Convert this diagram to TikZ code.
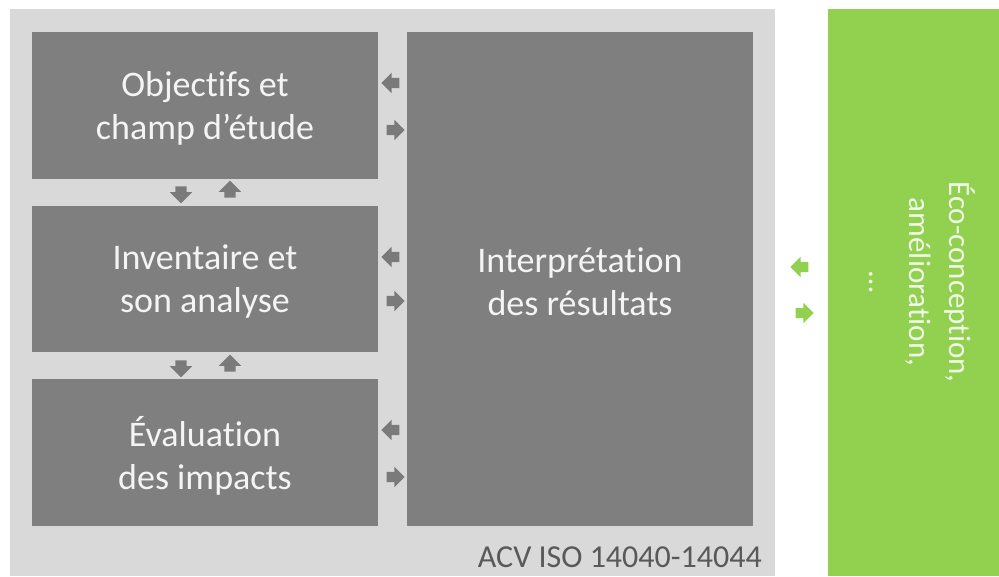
\documentclass[tikz,border=0pt]{standalone}
\usepackage{fontspec}
\setmainfont{Carlito}[Ligatures=NoCommon]
\usetikzlibrary{shapes.arrows}
\definecolor{bggray}{HTML}{D9D9D9}
\definecolor{boxgray}{HTML}{7F7F7F}
\definecolor{arrgray}{HTML}{7A7A7A}
\definecolor{boxtext}{HTML}{F4F4F4}
\definecolor{captext}{HTML}{595959}
\definecolor{ecogreen}{HTML}{92D050}
\definecolor{ecotext}{HTML}{F0F8E6}
\begin{document}
\begin{tikzpicture}[x=1pt,y=-1pt,
  box/.style={fill=boxgray, draw=none, inner sep=0pt, align=center, text=boxtext,
    font=\fontsize{36}{43}\selectfont},
  harr/.style={single arrow, fill=#1, draw=none, inner sep=5pt, minimum height=18pt,
    single arrow head extend=5pt, single arrow head indent=0pt},
  varr/.style={single arrow, fill=arrgray, draw=none, inner sep=5.5pt, minimum height=16pt,
    single arrow head extend=5.5pt, single arrow head indent=0pt},
]
\useasboundingbox (0,0) rectangle (999,576);
\node[fill=bggray, inner sep=0pt, minimum width=765pt, minimum height=567pt] (bg) at (392.5,292.5) {};
\node[fill=ecogreen, inner sep=0pt, minimum width=171pt, minimum height=567pt] (green) at (913.5,292.5) {};

\node[box, minimum width=346pt, minimum height=147pt] (obj) at (205,105.5) {};
\node[box, minimum width=346pt, minimum height=146pt] (inv) at (205,279) {};
\node[box, minimum width=346pt, minimum height=147pt] (eval) at (205,452.5) {};
\node[box, minimum width=346pt, minimum height=494pt] (interp) at (580,279) {};
\node[box, fill=none] (objt) at ([yshift=-3pt]obj.center) {Objectifs et\\champ d’étude};
\node[box, fill=none] (invt) at ([yshift=-3pt]inv.center) {Inventaire et\\son analyse};
\node[box, fill=none] (evalt) at ([yshift=-3pt]eval.center) {Évaluation\\des impacts};
\node[box, fill=none] (interpt) at ([yshift=-3pt]interp.center) {Interprétation\\des résultats};

\node[harr=arrgray, shape border rotate=180] (l1) at (393,83) {};
\node[harr=arrgray] (r1) at (393,130) {};
\node[harr=arrgray, shape border rotate=180] (l2) at (393,257) {};
\node[harr=arrgray] (r2) at (393,301) {};
\node[harr=arrgray, shape border rotate=180] (l3) at (393,430) {};
\node[harr=arrgray] (r3) at (393,477) {};

\node[varr, shape border rotate=270] (d1) at (181,192) {};
\node[varr, shape border rotate=90] (u1) at (230,192) {};
\node[varr, shape border rotate=270] (d2) at (181,366) {};
\node[varr, shape border rotate=90] (u2) at (230,366) {};

\node[harr=ecogreen, shape border rotate=180] (gl) at (802,267) {};
\node[harr=ecogreen] (gr) at (802,313) {};

\node[anchor=base east, text=captext, inner sep=0pt, font=\fontsize{32}{36}\selectfont] (acv) at (762,567) {ACV ISO 14040-14044};

\node[rotate=-90, align=center, text=ecotext, inner sep=0pt, font=\fontsize{31}{40}\selectfont] (eco) at (922,282) {Éco-conception,\\amélioration,\\…};
\end{tikzpicture}
\end{document}
